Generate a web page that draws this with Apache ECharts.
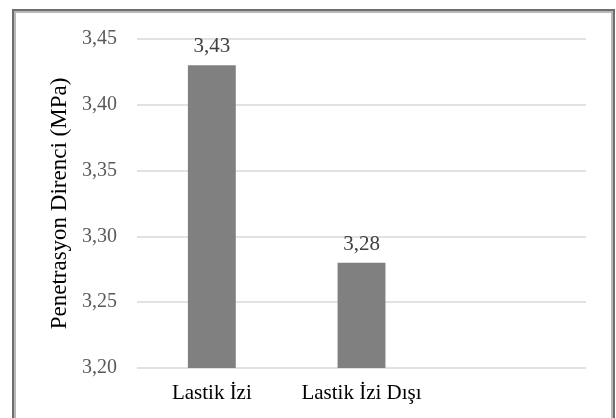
<!DOCTYPE html>
<html>
<head>
<meta charset="utf-8">
<script src="https://cdn.jsdelivr.net/npm/echarts@6/dist/echarts.min.js"></script>
<style>
  html, body { margin: 0; padding: 0; background: #fff; }
  #chart { width: 616px; height: 418px; }
</style>
</head>
<body>
<div id="chart"></div>
<script>
// Penetration resistance inside and outside the tyre track
const categories = ['Lastik İzi', 'Lastik İzi Dışı', ''];
const resistance = [3.43, 3.28, null];
const yMin = 3.20;
const yMax = 3.45;
const yStep = 0.05;
const yAxisTitle = 'Penetrasyon Direnci (MPa)';

const serif = '"Liberation Serif", "DejaVu Serif", serif';
const fmt = v => Number(v).toFixed(2).replace('.', ',');

const chart = echarts.init(document.getElementById('chart'), null, { renderer: 'canvas' });
chart.setOption({
  animation: false,
  backgroundColor: '#ffffff',
  graphic: [
    { type: 'rect', silent: true, z: 0,
      shape: { x: 13, y: 10, width: 601, height: 430 },
      style: { fill: 'none', stroke: '#6e6e6e', lineWidth: 2 } },
    { type: 'rect', silent: true, z: 0,
      shape: { x: 15, y: 12, width: 597, height: 430 },
      style: { fill: 'none', stroke: '#b8b8b8', lineWidth: 2 } }
  ],
  grid: { left: 137, right: 30, top: 39, bottom: 50, containLabel: false },
  xAxis: {
    type: 'category',
    data: categories,
    axisLine: { show: false },
    axisTick: { show: false },
    axisLabel: { interval: 0, hideOverlap: false, color: '#000', fontFamily: serif, fontSize: 21, margin: 15 }
  },
  yAxis: {
    type: 'value',
    min: yMin,
    max: yMax,
    interval: yStep,
    name: yAxisTitle,
    nameLocation: 'middle',
    nameGap: 66,
    nameRotate: 90,
    nameTextStyle: { color: '#000', fontFamily: serif, fontSize: 23 },
    axisLine: { show: false },
    axisTick: { show: false },
    axisLabel: { color: '#595959', fontFamily: serif, fontSize: 20, margin: 20, formatter: fmt },
    splitLine: { lineStyle: { color: '#d9d9d9', width: 1.5 } }
  },
  series: [{
    type: 'bar',
    data: resistance,
    barWidth: '32%',
    itemStyle: { color: '#808080' },
    label: {
      show: true,
      position: 'top',
      distance: 8,
      color: '#404040',
      fontFamily: serif,
      fontSize: 21,
      formatter: p => fmt(p.value)
    }
  }]
});
</script>
</body>
</html>
